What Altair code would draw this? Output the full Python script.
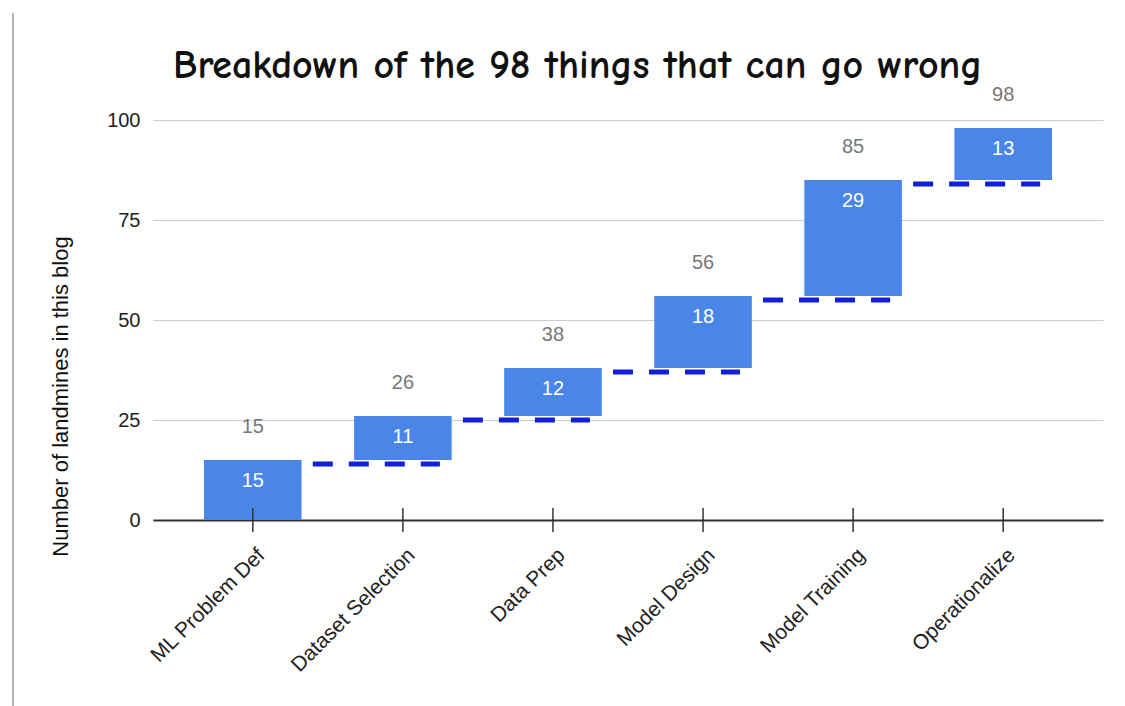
import altair as alt
import pandas as pd

# Waterfall of landmines per ML workflow stage
stages = ["ML Problem Def", "Dataset Selection", "Data Prep",
          "Model Design", "Model Training", "Operationalize"]
counts = [15, 11, 12, 18, 29, 13]

ends = []
running = 0
for c in counts:
    running += c
    ends.append(running)
starts = [e - c for e, c in zip(ends, counts)]

bars_df = pd.DataFrame({"stage": stages, "count": counts,
                        "start": starts, "end": ends})

conn_df = pd.DataFrame({"prev": stages[:-1], "stage": stages[1:],
                        "level": ends[:-1]})

FONT = "Liberation Sans"
BAR = "#4a86e8"
DASH = "#1020d8"

x_scale = alt.Scale(domain=stages, paddingInner=0.35, paddingOuter=0.34)
x_enc = alt.X(
    "stage:N", scale=x_scale,
    axis=alt.Axis(title=None, labelAngle=-45, ticks=False,
                  domainColor="#333333", domainWidth=2,
                  labelFont=FONT, labelFontSize=21, labelColor="#222222",
                  labelPadding=24, labelOffset=1),
)

y_scale = alt.Scale(domain=[0, 100], nice=False)
y_axis = alt.Axis(title="Number of landmines in this blog",
                  values=[0, 25, 50, 75, 100], domain=False, ticks=False,
                  gridColor="#cccccc", gridWidth=1,
                  labelFont=FONT, labelFontSize=20, labelColor="#222222",
                  labelPadding=13,
                  titleFont=FONT, titleFontSize=22, titleFontWeight="normal",
                  titleColor="#111111", titleX=-93, titleY=276,
                  titleAngle=-90, titleBaseline="middle", titleAlign="center")

base = alt.Chart(bars_df)

bars = base.mark_bar(color=BAR).encode(
    x=x_enc,
    y=alt.Y("start:Q", scale=y_scale, axis=y_axis),
    y2="end:Q",
)

inner = base.mark_text(color="white", fontSize=20, font=FONT,
                       baseline="middle", dy=21).encode(
    x=alt.X("stage:N"),
    y=alt.Y("end:Q"),
    text="count:Q",
)

totals = base.mark_text(color="#777777", fontSize=20, font=FONT,
                        baseline="middle", dy=-33).encode(
    x=alt.X("stage:N"),
    y=alt.Y("end:Q"),
    text="end:Q",
)

ticks = base.mark_rule(color="#333333", strokeWidth=1.5,
                       yOffset=-12, y2Offset=12).encode(
    x=alt.X("stage:N"),
    y=alt.datum(0),
    y2=alt.datum(0),
)

connectors = alt.Chart(conn_df).mark_rule(
    color=DASH, strokeWidth=5, strokeDash=[20, 16],
    xOffset=60, x2Offset=37, yOffset=4,
).encode(
    x=alt.X("prev:N"),
    x2="stage:N",
    y=alt.Y("level:Q"),
)

edge = alt.Chart(bars_df).mark_rule(color="#b5b5b5", strokeWidth=1.5).encode(
    x=alt.value(-140), y=alt.value(-107), y2=alt.value(586),
)

chart = alt.layer(edge, bars, connectors, ticks, inner, totals).properties(
    width=950, height=400,
    autosize=alt.AutoSizeParams(type="none"),
    padding={"left": 153, "top": 120, "right": 22, "bottom": 186},
    title=alt.TitleParams(
        "Breakdown of the 98 things that can go wrong",
        font="Comic Sans MS, Comic Neue, Open Sans", fontSize=40,
        fontWeight="bold", color="#111111", anchor="start", dx=20,
        frame="group", offset=0, baseline="alphabetic", dy=106,
    ),
).configure_view(stroke=None)

chart.save("out.html", embed_options={"renderer": "svg", "actions": False})
